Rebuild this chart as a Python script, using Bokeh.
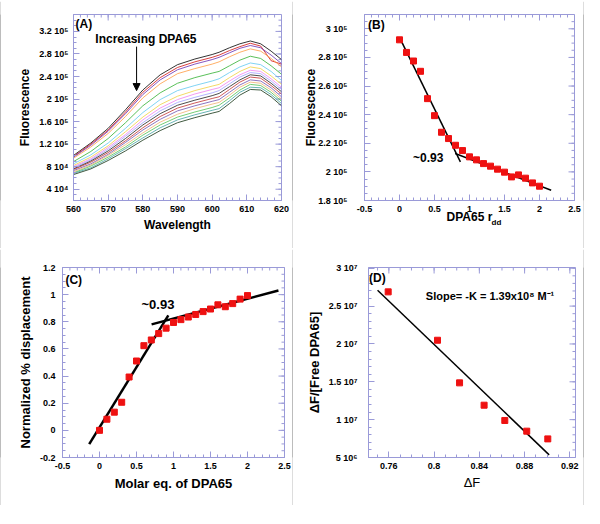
import math
import numpy as np
from bokeh.plotting import figure
from bokeh.models import FixedTicker, Label, Arrow, NormalHead, Range1d, Title
from bokeh.layouts import column, row
from bokeh.embed import file_html
from bokeh.resources import INLINE

FONT = "Liberation Sans"
FRAME = "#9a9ad8"
RED = "#ee1111"
GRAY = "#7a7a7a"

# ---------------- Panel A data ----------------
wavelength = [560, 565, 570, 575, 580, 585, 590, 595, 600, 602, 605, 608, 611, 614, 617, 620]
spectra_k = [
    [100, 122, 148, 181, 216, 243, 261, 271, 279, 283, 291, 298, 303, 298, 285, 270],
    [98, 120, 145, 177, 212, 238, 256, 266, 274, 278, 286, 293, 299, 294, 268, 262],
    [97, 118, 143, 174, 208, 234, 252, 262, 270, 274, 282, 290, 295, 291, 278, 263],
    [95, 115, 139, 169, 202, 227, 245, 254, 262, 266, 275, 283, 289, 285, 272, 257],
    [89, 107, 130, 158, 188, 211, 228, 238, 246, 249, 259, 269, 276, 272, 259, 244],
    [85, 101, 122, 148, 176, 199, 215, 224, 232, 236, 247, 257, 264, 261, 249, 233],
    [82, 97, 117, 142, 168, 190, 205, 215, 223, 226, 238, 249, 257, 254, 241, 226],
    [80, 94, 114, 137, 163, 184, 199, 209, 217, 220, 232, 243, 251, 249, 236, 221],
    [78, 92, 111, 134, 158, 179, 194, 203, 211, 215, 227, 239, 247, 245, 232, 217],
    [76, 90, 108, 130, 154, 174, 189, 198, 206, 210, 222, 234, 243, 241, 228, 213],
    [75, 88, 105, 126, 149, 169, 184, 193, 201, 204, 217, 230, 239, 237, 224, 209],
    [73, 85, 102, 123, 145, 164, 179, 188, 196, 199, 212, 225, 234, 232, 220, 204],
    [71, 83, 100, 119, 140, 159, 173, 183, 191, 194, 207, 221, 230, 228, 216, 200],
    [69, 81, 97, 115, 136, 154, 168, 177, 185, 189, 202, 216, 226, 224, 212, 196],
    [68, 78, 94, 112, 131, 149, 163, 172, 180, 183, 197, 212, 221, 220, 208, 192],
    [66, 76, 91, 108, 127, 144, 158, 167, 175, 178, 192, 207, 217, 216, 204, 188],
]
spectra_colors = ["#000000", "#d01010", "#6a2cb0", "#ff9a40", "#30b030", "#60c8f0",
                  "#f0d040", "#f080f0", "#a0a0ff", "#202020", "#c03030", "#7050b0",
                  "#f0b070", "#50c050", "#40a0a0", "#103010"]
a_xticks = [560, 570, 580, 590, 600, 610, 620]
a_xlabels = ["560", "570", "580", "590", "600", "610", "620"]
a_yticks = [40000, 80000, 120000, 160000, 200000, 240000, 280000, 320000]
a_ylabels = ["4 10\u2074", "8 10\u2074", "1.2 10\u2075", "1.6 10\u2075", "2 10\u2075",
             "2.4 10\u2075", "2.8 10\u2075", "3.2 10\u2075"]

# ---------------- Panel B data ----------------
b_x = [0, 0.1, 0.2, 0.3, 0.4, 0.5, 0.6, 0.7, 0.8, 0.9, 1.0, 1.1, 1.2, 1.3, 1.4, 1.5, 1.6, 1.7, 1.8, 1.9, 2.0]
b_y = [292300, 283500, 277500, 270300, 251200, 239300, 227700, 223300, 218600, 214900, 210500,
       208400, 205800, 204000, 201900, 199800, 196500, 197900, 195600, 192300, 190000]
b_fit1_x = [0.0, 0.87]
b_fit1_y = [294000, 207000]
b_fit2_x = [0.795, 2.167]
b_fit2_y = [212800, 187200]
b_xticks = [-0.5, 0, 0.5, 1, 1.5, 2, 2.5]
b_xlabels = ["-0.5", "0", "0.5", "1", "1.5", "2", "2.5"]
b_yticks = [180000, 200000, 220000, 240000, 260000, 280000, 300000]
b_ylabels = ["1.8 10\u2075", "2 10\u2075", "2.2 10\u2075", "2.4 10\u2075", "2.6 10\u2075",
             "2.8 10\u2075", "3 10\u2075"]

# ---------------- Panel C data ----------------
c_x = [0, 0.1, 0.2, 0.3, 0.4, 0.5, 0.6, 0.7, 0.8, 0.9, 1.0, 1.1, 1.2, 1.3, 1.4, 1.5, 1.6, 1.7, 1.8, 1.9, 2.0]
c_y = [0.0, 0.082, 0.134, 0.207, 0.393, 0.511, 0.624, 0.666, 0.713, 0.753, 0.795,
       0.816, 0.835, 0.854, 0.875, 0.894, 0.925, 0.911, 0.934, 0.967, 0.993]
c_fit1_x = [-0.139, 0.93]
c_fit1_y = [-0.101, 0.847]
c_fit2_x = [0.704, 2.418]
c_fit2_y = [0.781, 1.031]
c_xticks = [-0.5, 0, 0.5, 1, 1.5, 2, 2.5]
c_xlabels = ["-0.5", "0", "0.5", "1", "1.5", "2", "2.5"]
c_yticks = [-0.2, 0, 0.2, 0.4, 0.6, 0.8, 1.0, 1.2]
c_ylabels = ["-0.2", "0", "0.2", "0.4", "0.6", "0.8", "1", "1.2"]

# ---------------- Panel D data ----------------
d_x = [0.7594, 0.803, 0.8225, 0.8442, 0.8625, 0.8819, 0.9005]
d_y = [26880000, 20490000, 14860000, 11910000, 9890000, 8480000, 7460000]
d_fit_x = [0.75, 0.9017]
d_fit_y = [27100000, 5350000]
d_xticks = [0.76, 0.8, 0.84, 0.88, 0.92]
d_xlabels = ["0.76", "0.8", "0.84", "0.88", "0.92"]
d_yticks = [5000000, 10000000, 15000000, 20000000, 25000000, 30000000]
d_ylabels = ["5 10\u2076", "1 10\u2077", "1.5 10\u2077", "2 10\u2077", "2.5 10\u2077", "3 10\u2077"]


def make_fig(w, h, xr, yr, mb):
    p = figure(width=w, height=h, x_range=Range1d(*xr), y_range=Range1d(*yr),
               output_backend="svg", toolbar_location=None,
               min_border_left=mb[0], min_border_right=mb[1],
               min_border_top=mb[2], min_border_bottom=mb[3])
    p.grid.visible = False
    p.outline_line_color = FRAME
    p.outline_line_width = 1
    p.border_fill_color = "white"
    p.background_fill_color = "white"
    return p


def tick_style(ax):
    ax.major_tick_in = 6
    ax.major_tick_out = 0
    ax.minor_tick_in = 3
    ax.minor_tick_out = 0
    ax.major_tick_line_color = FRAME
    ax.minor_tick_line_color = FRAME
    ax.axis_line_color = FRAME
    ax.major_label_text_font = FONT
    ax.major_label_text_font_size = "9px"
    ax.major_label_text_font_style = "bold"
    ax.major_label_text_color = "black"
    ax.axis_label_text_font = FONT
    ax.axis_label_text_color = "black"


def setup_axes(p, xt, xminor, xl, yt, yminor, yl, xtitle, ytitle,
               xt_size="12px", yt_size="12px", xt_style="bold", yt_style="bold",
               x_std=5, y_std=5, x_title_std=3, y_title_std=4):
    xa = p.xaxis[0]
    ya = p.yaxis[0]
    xa.ticker = FixedTicker(ticks=xt, minor_ticks=xminor)
    ya.ticker = FixedTicker(ticks=yt, minor_ticks=yminor)
    xa.major_label_overrides = dict(zip(xt, xl))
    ya.major_label_overrides = dict(zip(yt, yl))
    for ax in (xa, ya):
        tick_style(ax)
    xa.axis_label = xtitle
    ya.axis_label = ytitle
    xa.axis_label_text_font_size = xt_size
    ya.axis_label_text_font_size = yt_size
    xa.axis_label_text_font_style = xt_style
    ya.axis_label_text_font_style = yt_style
    xa.major_label_standoff = x_std
    ya.major_label_standoff = y_std
    xa.axis_label_standoff = x_title_std
    ya.axis_label_standoff = y_title_std
    # mirrored ticks on the top and right edges of the frame
    x0, x1 = p.x_range.start, p.x_range.end
    y0, y1 = p.y_range.start, p.y_range.end
    xmin_in = [v for v in xminor if x0 < v < x1]
    ymin_in = [v for v in yminor if y0 < v < y1]
    p.ray(x=xt, y=[y1] * len(xt), length=6, length_units="screen", angle=-math.pi / 2,
          line_color=FRAME, line_width=1)
    p.ray(x=xmin_in, y=[y1] * len(xmin_in), length=3, length_units="screen",
          angle=-math.pi / 2, line_color=FRAME, line_width=1)
    p.ray(x=[x1] * len(yt), y=yt, length=6, length_units="screen", angle=math.pi,
          line_color=FRAME, line_width=1)
    p.ray(x=[x1] * len(ymin_in), y=ymin_in, length=3, length_units="screen",
          angle=math.pi, line_color=FRAME, line_width=1)


def label(p, x, y, text, size, style="bold", align="left"):
    p.add_layout(Label(x=x, y=y, text=text, text_font=FONT, text_font_size=size,
                       text_font_style=style, text_align=align, text_baseline="middle",
                       text_color="black"))


# ---------------- Panel A ----------------
pA = make_fig(291, 247, (560, 620), (20000, 350000), (72, 11, 13, 48))
setup_axes(pA, a_xticks, list(np.arange(560, 621, 2)), a_xlabels,
           a_yticks, list(np.arange(30000, 350001, 10000)), a_ylabels,
           "Wavelength", "Fluorescence")
for s, c in zip(spectra_k, spectra_colors):
    pA.line(wavelength, [v * 1000 for v in s], line_color=c, line_width=0.8)
label(pA, 560.6, 334000, "(A)", "12px")
label(pA, 566.3, 307000, "Increasing DPA65", "12px")
pA.add_layout(Arrow(end=NormalHead(size=7, fill_color="black", line_color="black"),
                    x_start=578.2, y_start=293000, x_end=578.2, y_end=215000,
                    line_color="black", line_width=1))

# ---------------- Panel B ----------------
pB = make_fig(290, 247, (-0.5, 2.5), (180000, 310000), (71, 9, 13, 48))
setup_axes(pB, b_xticks, list(np.arange(-0.5, 2.51, 0.1)), b_xlabels,
           b_yticks, list(np.arange(180000, 310001, 5000)), b_ylabels,
           "DPA65 r", "Fluorescence", y_std=17, x_title_std=-5, y_title_std=-3)
pB.add_layout(Title(text="dd", align="left", offset=127, standoff=-17,
                    vertical_align="top", text_font=FONT, text_font_size="8px",
                    text_font_style="bold", text_color="black"), "below")
pB.line(b_fit1_x, b_fit1_y, line_color="black", line_width=1.5)
pB.line(b_fit2_x, b_fit2_y, line_color="black", line_width=1.5)
pB.scatter(b_x, b_y, marker="square", size=6, fill_color=RED, line_color=RED)
label(pB, -0.45, 303000, "(B)", "12px")
label(pB, 0.41, 209800, "~0.93", "12px", align="center")

# ---------------- Panel C ----------------
pC = make_fig(291, 256, (-0.5, 2.5), (-0.2, 1.2), (61, 8, 12, 44))
setup_axes(pC, c_xticks, list(np.arange(-0.5, 2.51, 0.1)), c_xlabels,
           c_yticks, list(np.arange(-0.2, 1.201, 0.05)), c_ylabels,
           "Molar eq. of DPA65", "Normalized % displacement",
           xt_size="13px", yt_size="13px", y_std=7, x_title_std=4)
pC.line(c_fit1_x, c_fit1_y, line_color="black", line_width=2.5)
pC.line(c_fit2_x, c_fit2_y, line_color="black", line_width=2.5)
pC.scatter(c_x, c_y, marker="square", size=6, fill_color=RED, line_color=RED)
label(pC, -0.46, 1.106, "(C)", "12px")
label(pC, 0.79, 0.929, "~0.93", "13px", align="center")

# ---------------- Panel D ----------------
pD = make_fig(290, 256, (0.742, 0.925), (5000000, 30100000), (75, 8, 18, 48))
setup_axes(pD, d_xticks, list(np.arange(0.74, 0.926, 0.01)), d_xlabels,
           d_yticks, list(np.arange(5000000, 30000001, 1000000)), d_ylabels,
           "\u0394F", "\u0394F/[Free DPA65]",
           xt_size="13px", yt_size="13px", xt_style="normal", yt_style="bold",
           y_std=11, x_std=5, x_title_std=3)
pD.line(d_fit_x, d_fit_y, line_color="black", line_width=1.5)
pD.scatter(d_x, d_y, marker="square", size=6, fill_color=RED, line_color=RED)
label(pD, 0.7425, 28700000, "(D)", "12px")
label(pD, 0.7927, 26350000, "Slope= -K = 1.39x10\u2078 M\u207b\u00b9", "11px")


def bar(w, h):
    b = figure(width=w, height=h, output_backend="svg", toolbar_location=None,
               x_axis_type=None, y_axis_type=None, min_border=0,
               border_fill_color=GRAY, background_fill_color=GRAY,
               outline_line_color=None)
    b.grid.visible = False
    return b


layout = column(bar(584, 1),
                row(bar(1, 247), pA, bar(1, 247), pB, bar(1, 247)),
                bar(584, 1),
                row(bar(1, 256), pC, bar(1, 256), pD, bar(1, 256)),
                bar(584, 1))

open("out.html", "w").write(file_html(layout, INLINE))
